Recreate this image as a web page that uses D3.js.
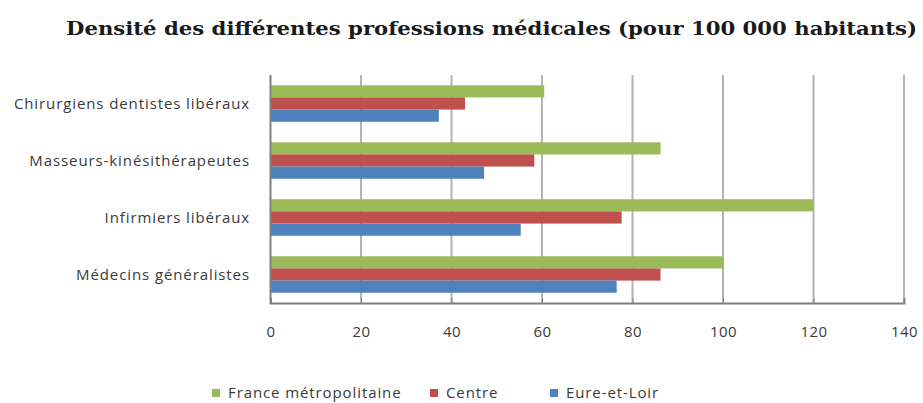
<!DOCTYPE html>
<html lang="fr">
<head>
<meta charset="UTF-8">
<title>Densité des professions médicales</title>
<script src="https://cdn.jsdelivr.net/npm/d3@7"></script>
<style>
  body { margin: 0; background: #fff; }
  svg { display: block; }
</style>
</head>
<body>
<div id="chart"></div>
<script>
// donnees
const professions = ["Chirurgiens dentistes libéraux", "Masseurs-kinésithérapeutes", "Infirmiers libéraux", "Médecins généralistes"];
const series = ["France métropolitaine", "Centre", "Eure-et-Loir"];
const franceMetro = [60.5, 86.2, 120, 100];
const centre = [43, 58.3, 77.6, 86.2];
const eureEtLoir = [37.2, 47.2, 55.3, 76.5];
const ticks = [0, 20, 40, 60, 80, 100, 120, 140];
const couleurs = ["#9bbb59", "#c0504d", "#4f81bd"];

const largeur = 923, hauteur = 403;
const valeurs = [franceMetro, centre, eureEtLoir];
const police = "Open Sans, sans-serif";

const svg = d3.select("#chart").append("svg")
  .attr("width", largeur)
  .attr("height", hauteur);

// titre
svg.append("text")
  .attr("x", 66)
  .attr("y", 35)
  .attr("font-family", "DejaVu Serif, serif")
  .attr("font-weight", "bold")
  .attr("textLength", 851)
  .attr("lengthAdjust", "spacingAndGlyphs")
  .style("font-size", "19px")
  .style("fill", "#1a1a1a")
  .text("Densité des différentes professions médicales (pour 100 000 habitants)");

// echelles
const x = d3.scaleLinear().domain([0, 140]).range([270.5, 904]);
const y = d3.scaleBand().domain(professions).range([75, 303]).paddingInner(0.36).paddingOuter(0.18);
const ySerie = d3.scaleBand().domain(series).range([0, y.bandwidth()]);

// grille verticale
svg.append("g")
  .selectAll("line")
  .data(ticks.slice(1))
  .join("line")
    .attr("x1", d => x(d))
    .attr("x2", d => x(d))
    .attr("y1", 75)
    .attr("y2", 303)
    .attr("stroke", "#b3b3b3")
    .attr("stroke-width", 2);

// barres
const groupes = svg.append("g")
  .selectAll("g")
  .data(professions)
  .join("g")
    .attr("transform", d => `translate(0,${y(d)})`);

groupes.selectAll("rect")
  .data((p, i) => series.map((s, j) => ({ serie: s, valeur: valeurs[j][i], j: j })))
  .join("rect")
    .attr("x", x(0))
    .attr("y", d => ySerie(d.serie))
    .attr("width", d => x(d.valeur) - x(0))
    .attr("height", ySerie.bandwidth())
    .attr("fill", d => couleurs[d.j]);

// axe x
const axeX = svg.append("g")
  .attr("transform", "translate(0,303)")
  .call(d3.axisBottom(x).tickValues(ticks).tickSize(-5).tickPadding(23));
axeX.select(".domain").attr("stroke", "#7f7f7f").attr("stroke-width", 2);
axeX.selectAll(".tick line").attr("stroke", "#7f7f7f");
axeX.selectAll("text")
  .attr("font-family", police)
  .style("font-size", "15px")
  .style("letter-spacing", "0.5px")
  .style("fill", "#3a3a3a");

// axe y
svg.append("line")
  .attr("x1", x(0)).attr("x2", x(0))
  .attr("y1", 75).attr("y2", 304)
  .attr("stroke", "#7f7f7f")
  .attr("stroke-width", 2);

svg.append("g")
  .selectAll("text")
  .data(professions)
  .join("text")
    .attr("x", 250)
    .attr("y", d => y(d) + y.bandwidth() / 2)
    .attr("dy", "0.35em")
    .attr("text-anchor", "end")
    .attr("font-family", police)
    .style("font-size", "15px")
    .style("letter-spacing", "0.9px")
    .style("fill", "#3a3a3a")
    .text(d => d);

// legende
const legendeX = [212, 430, 550];
const legende = svg.append("g")
  .selectAll("g")
  .data(series)
  .join("g")
    .attr("transform", (d, i) => `translate(${legendeX[i]},389)`);
legende.append("rect")
  .attr("width", 8)
  .attr("height", 8)
  .attr("fill", (d, i) => couleurs[i]);
legende.append("text")
  .attr("x", 16)
  .attr("y", 4)
  .attr("dy", "0.35em")
  .attr("font-family", police)
  .style("font-size", "15px")
  .style("letter-spacing", "0.9px")
  .style("fill", "#3a3a3a")
  .text(d => d);
</script>
</body>
</html>
